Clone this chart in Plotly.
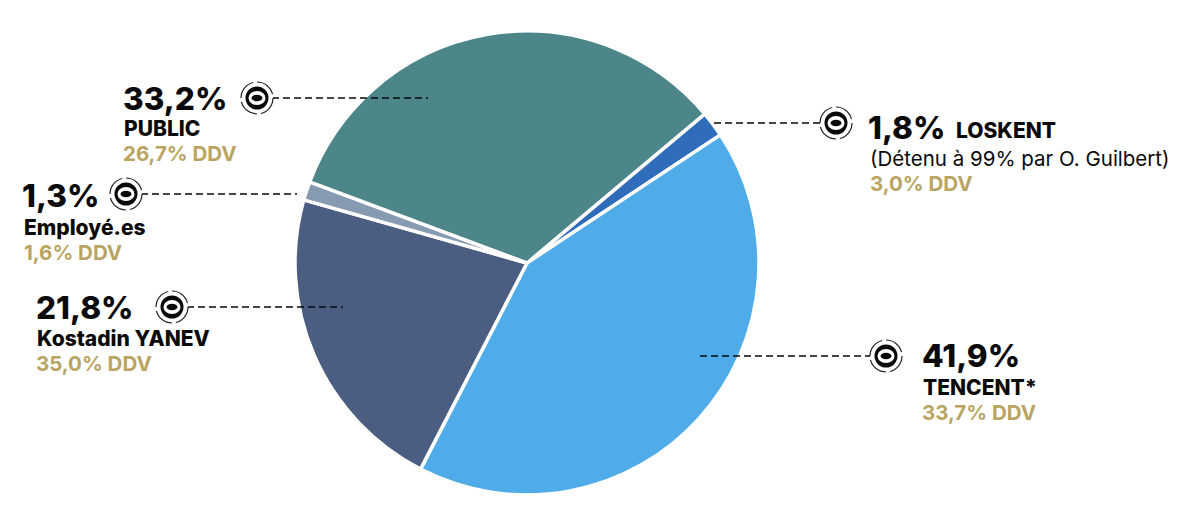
import plotly.graph_objects as go

W, H = 1200, 526
labels = ["LOSKENT", "TENCENT*", "Kostadin YANEV", "Employé.es", "PUBLIC"]
values = [1.8, 41.9, 21.8, 1.3, 33.2]
colors = ["#2F6DBB", "#4FACE9", "#4B5D81", "#869BB2", "#4D8689"]
pct_text = ["1,8%", "41,9%", "21,8%", "1,3%", "33,2%"]
ddv_text = ["3,0% DDV", "33,7% DDV", "35,0% DDV", "1,6% DDV", "26,7% DDV"]

FONT = "Inter"
GOLD = "#B9A461"
BIG, MID, LAB = 31.5, 20.5, 21


def px(x):
    return x / W


def py(y):
    return 1 - y / H


fig = go.Figure(go.Pie(
    labels=labels, values=values, sort=False, direction="clockwise", rotation=50,
    marker=dict(colors=colors, line=dict(color="#FFFFFF", width=3.5)),
    textinfo="none", hoverinfo="label+percent", showlegend=False,
    domain=dict(x=[px(295), px(759)], y=[py(495), py(31)]),
))

shapes = []
annotations = []


def text(x, y, s, size, color="#0A0A0A", weight=800):
    annotations.append(dict(
        x=px(x), y=py(y), xref="paper", yref="paper", text=s, showarrow=False,
        xanchor="left", yanchor="middle", xshift=-2,
        font=dict(family=FONT, size=size, color=color, weight=weight),
    ))


def icon(cx, cy):
    def circ(rx, ry, **kw):
        shapes.append(dict(type="circle", xref="paper", yref="paper",
                           x0=px(cx - rx), x1=px(cx + rx), y0=py(cy + ry), y1=py(cy - ry), **kw))
    circ(16, 16, fillcolor="#FFFFFF", line=dict(color="#222222", width=1.2, dash="21px,4px"))
    circ(11.5, 11.5, fillcolor="#0A0A0A", line=dict(width=0))
    circ(8.5, 7, fillcolor="#FFFFFF", line=dict(width=0))
    circ(5.5, 3.2, fillcolor="#0A0A0A", line=dict(width=0))


def leader(x0, x1, y):
    shapes.append(dict(type="line", xref="paper", yref="paper",
                       x0=px(x0), x1=px(x1), y0=py(y), y1=py(y),
                       line=dict(color="#0A0A0A", width=1.6, dash="7px,4px")))


leader(272, 428, 98)
leader(141, 297, 194)
leader(187, 343, 307)
leader(714, 820, 123)
leader(700, 872, 356)
for c in [(257, 98), (126, 194), (172, 307), (836, 123), (886, 356)]:
    icon(*c)

text(123, 98, pct_text[4], BIG)
text(124, 129, labels[4], LAB)
text(123, 153, ddv_text[4], MID, GOLD, 700)

text(22, 195, pct_text[3], BIG)
text(24, 228, labels[3], LAB)
text(24, 252, ddv_text[3], MID, GOLD, 700)

text(36, 307, pct_text[2], BIG)
text(37, 338, labels[2], LAB)
text(36, 363, ddv_text[2], MID, GOLD, 700)

text(868, 127, pct_text[0], BIG)
text(956, 131, labels[0], LAB)
text(870, 158, "(Détenu à 99% par O. Guilbert)", MID, weight=400)
text(870, 183, ddv_text[0], MID, GOLD, 700)

text(922, 355, pct_text[1], BIG)
text(923, 387, labels[1], LAB)
text(922, 412, ddv_text[1], MID, GOLD, 700)

fig.update_layout(
    width=W, height=H, margin=dict(l=0, r=0, t=0, b=0),
    paper_bgcolor="#FFFFFF", plot_bgcolor="#FFFFFF",
    shapes=shapes, annotations=annotations,
)
fig.write_html("out.html", config={"displayModeBar": False},
               post_script="document.body.style.margin='0';document.body.style.overflow='hidden';")
